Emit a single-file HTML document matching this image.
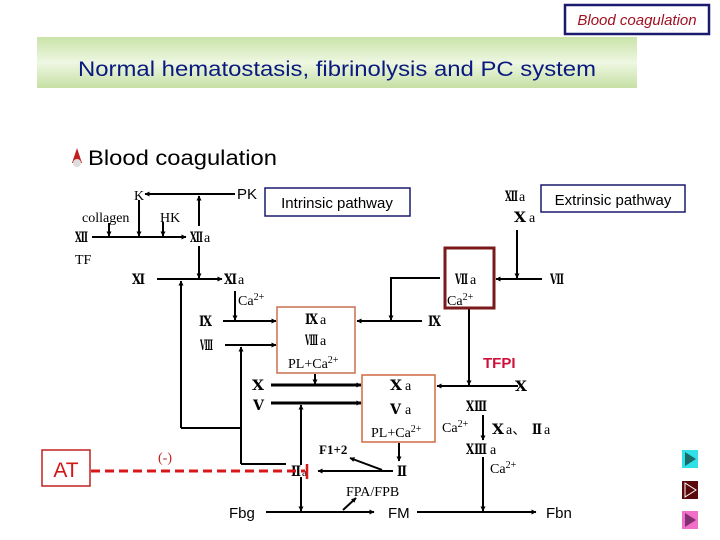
<!DOCTYPE html>
<html><head><meta charset="utf-8"><style>
html,body{margin:0;padding:0;background:#fff;}
svg{display:block}
.s{font-family:"Liberation Serif","DejaVu Serif",serif;font-size:14px;fill:#000}
.b{font-weight:bold}
.a{font-family:"Liberation Sans","DejaVu Sans",sans-serif;fill:#000}
</style></head><body>
<svg width="720" height="540" viewBox="0 0 720 540" xmlns="http://www.w3.org/2000/svg">
<defs>
<linearGradient id="g" x1="0" y1="0" x2="0" y2="1"><stop offset="0" stop-color="#c9e3a8"/><stop offset="0.5" stop-color="#eef7e2"/><stop offset="1" stop-color="#c6e0a4"/></linearGradient>
<marker id="ar" viewBox="0 0 10 10" refX="9" refY="5" markerWidth="5" markerHeight="5" orient="auto-start-reverse" markerUnits="userSpaceOnUse"><path d="M0,0L10,5L0,10z" fill="#000"/></marker>
</defs>
<rect x="565" y="5" width="144" height="29" fill="none" stroke="#1a1a6e" stroke-width="2.5"/>
<text x="637" y="25" text-anchor="middle" class="a" font-size="15" font-style="italic" style="fill:#a01020">Blood coagulation</text>
<rect x="37" y="37" width="600" height="51" fill="url(#g)"/>
<text x="78" y="76" class="a" font-size="21" textLength="518" lengthAdjust="spacingAndGlyphs" style="fill:#0a1a80">Normal hematostasis, fibrinolysis and PC system</text>
<path d="M77,148 L72,163 L82,163 Z" fill="#c02020"/><circle cx="77" cy="163" r="4" fill="#ddd"/>
<text x="88" y="165" class="a" font-size="21" textLength="189" lengthAdjust="spacingAndGlyphs">Blood coagulation</text>

<rect x="265" y="188" width="145" height="28" fill="none" stroke="#1a1a6e" stroke-width="1.5"/>
<text x="337" y="208" text-anchor="middle" class="a" font-size="15">Intrinsic pathway</text>
<rect x="541" y="185" width="144" height="27" fill="none" stroke="#1a1a6e" stroke-width="1.5"/>
<text x="613" y="205" text-anchor="middle" class="a" font-size="15">Extrinsic pathway</text>

<g stroke="#000" stroke-width="2" fill="none">
<line x1="235" y1="194" x2="145" y2="194" marker-end="url(#ar)"/>
<line x1="199" y1="226" x2="199" y2="196" marker-end="url(#ar)"/>
<line x1="92" y1="237" x2="186" y2="237" marker-end="url(#ar)"/>
<line x1="109" y1="223" x2="109" y2="236" marker-end="url(#ar)"/>
<line x1="139" y1="200" x2="139" y2="236" marker-end="url(#ar)"/>
<line x1="163" y1="222" x2="163" y2="236" marker-end="url(#ar)"/>
<line x1="199" y1="246" x2="199" y2="278" marker-end="url(#ar)"/>
<line x1="157" y1="279" x2="222" y2="279" marker-end="url(#ar)"/>
<line x1="181" y1="428" x2="181" y2="281" marker-end="url(#ar)"/>
<polyline points="181,428 241,428"/>
<line x1="235" y1="291" x2="235" y2="320" marker-end="url(#ar)"/>
<line x1="223" y1="321" x2="276" y2="321" marker-end="url(#ar)"/>
<line x1="225" y1="345" x2="276" y2="345" marker-end="url(#ar)"/>
<line x1="241" y1="464" x2="241" y2="347" marker-end="url(#ar)"/>
<polyline points="241,464 286,464"/>
<line x1="422" y1="321" x2="357" y2="321" marker-end="url(#ar)"/>
<polyline points="440,278 391,278 391,319" />
<line x1="391" y1="300" x2="391" y2="320" marker-end="url(#ar)"/>
<line x1="517" y1="230" x2="517" y2="278" marker-end="url(#ar)"/>
<line x1="542" y1="279" x2="496" y2="279" marker-end="url(#ar)"/>
<line x1="469" y1="309" x2="469" y2="385" marker-end="url(#ar)"/>
<line x1="518" y1="386" x2="437" y2="386" marker-end="url(#ar)"/>
<line x1="315" y1="374" x2="315" y2="384" marker-end="url(#ar)"/>
<line x1="271" y1="385" x2="361" y2="385" stroke-width="3" marker-end="url(#ar)"/>
<line x1="271" y1="403" x2="361" y2="403" stroke-width="3" marker-end="url(#ar)"/>
<line x1="301" y1="465" x2="301" y2="405" marker-end="url(#ar)"/>
<line x1="301" y1="477" x2="301" y2="511" marker-end="url(#ar)"/>
<line x1="399" y1="443" x2="399" y2="461" marker-end="url(#ar)"/>
<line x1="393" y1="471" x2="318" y2="471" marker-end="url(#ar)"/>
<line x1="382" y1="470" x2="350" y2="458" marker-end="url(#ar)"/>
<line x1="266" y1="512" x2="374" y2="512" marker-end="url(#ar)"/>
<line x1="343" y1="510" x2="356" y2="498" marker-end="url(#ar)"/>
<line x1="417" y1="512" x2="536" y2="512" marker-end="url(#ar)"/>
<line x1="483" y1="415" x2="483" y2="440" marker-end="url(#ar)"/>
<line x1="483" y1="457" x2="483" y2="511" marker-end="url(#ar)"/>
</g>
<rect x="277" y="307" width="78" height="66" fill="none" stroke="#c87050" stroke-width="1.5"/>
<rect x="445" y="248" width="49" height="60" fill="none" stroke="#7a1a1a" stroke-width="3"/>
<rect x="362" y="375" width="73" height="67" fill="none" stroke="#d06a40" stroke-width="1.5"/>

<g class="s">
<text x="134" y="200">K</text>
<text x="237" y="199" class="a" font-size="15">PK</text>
<text x="82" y="222">collagen</text>
<text x="160" y="222">HK</text>
<text x="75" y="242" class="b" textLength="13" lengthAdjust="spacingAndGlyphs">Ⅻ</text>
<text x="190" y="242" class="b" textLength="13" lengthAdjust="spacingAndGlyphs">Ⅻ</text><text x="204" y="242">a</text>
<text x="75" y="264">TF</text>
<text x="132" y="284" class="b" textLength="13" lengthAdjust="spacingAndGlyphs">Ⅺ</text>
<text x="224" y="284" class="b" textLength="13" lengthAdjust="spacingAndGlyphs">Ⅺ</text><text x="238" y="284">a</text>
<text x="238" y="305">Ca<tspan font-size="10" dy="-5">2+</tspan></text>
<text x="199" y="326" class="b" textLength="13" lengthAdjust="spacingAndGlyphs">Ⅸ</text>
<text x="200" y="350" class="b" textLength="13" lengthAdjust="spacingAndGlyphs">Ⅷ</text>
<text x="305" y="324" class="b" textLength="13" lengthAdjust="spacingAndGlyphs">Ⅸ</text><text x="320" y="324">a</text>
<text x="305" y="345" class="b" textLength="13" lengthAdjust="spacingAndGlyphs">Ⅷ</text><text x="320" y="345">a</text>
<text x="288" y="368">PL+Ca<tspan font-size="10" dy="-5">2+</tspan></text>
<text x="428" y="326" class="b" textLength="13" lengthAdjust="spacingAndGlyphs">Ⅸ</text>
<text x="505" y="201" class="b" textLength="13" lengthAdjust="spacingAndGlyphs">Ⅻ</text><text x="519" y="201">a</text>
<text x="514" y="222" class="b" textLength="12" lengthAdjust="spacingAndGlyphs">Ⅹ</text><text x="529" y="222">a</text>
<text x="455" y="284" class="b" textLength="13" lengthAdjust="spacingAndGlyphs">Ⅶ</text><text x="470" y="284">a</text>
<text x="447" y="305">Ca<tspan font-size="10" dy="-5">2+</tspan></text>
<text x="550" y="284" class="b" textLength="14" lengthAdjust="spacingAndGlyphs">Ⅶ</text>
<text x="252" y="390" class="b" textLength="12" lengthAdjust="spacingAndGlyphs">Ⅹ</text>
<text x="253" y="410" class="b" textLength="11" lengthAdjust="spacingAndGlyphs">Ⅴ</text>
<text x="390" y="390" class="b" textLength="12" lengthAdjust="spacingAndGlyphs">Ⅹ</text><text x="405" y="390">a</text>
<text x="390" y="414" class="b" textLength="11" lengthAdjust="spacingAndGlyphs">Ⅴ</text><text x="405" y="414">a</text>
<text x="371" y="437">PL+Ca<tspan font-size="10" dy="-5">2+</tspan></text>
<text x="515" y="391" class="b" textLength="12" lengthAdjust="spacingAndGlyphs">Ⅹ</text>
<text x="466" y="411" class="b" textLength="21" lengthAdjust="spacingAndGlyphs">ⅩⅢ</text>
<text x="442" y="432">Ca<tspan font-size="10" dy="-5">2+</tspan></text>
<text x="492" y="434" class="b" textLength="12" lengthAdjust="spacingAndGlyphs">Ⅹ</text><text x="506" y="434">a、</text><text x="532" y="434" class="b" textLength="10" lengthAdjust="spacingAndGlyphs">Ⅱ</text><text x="544" y="434">a</text>
<text x="466" y="454" class="b" textLength="21" lengthAdjust="spacingAndGlyphs">ⅩⅢ</text><text x="490" y="454">a</text>
<text x="490" y="473">Ca<tspan font-size="10" dy="-5">2+</tspan></text>
<text x="319" y="454" class="b" font-size="13">F1+2</text>
<text x="291" y="476" class="b" textLength="10" lengthAdjust="spacingAndGlyphs">Ⅱ</text><text x="302" y="476" font-size="11">a</text>
<text x="397" y="476" class="b" textLength="10" lengthAdjust="spacingAndGlyphs">Ⅱ</text>
<text x="346" y="496">FPA/FPB</text>
<text x="229" y="518" class="a" font-size="15">Fbg</text>
<text x="388" y="518" class="a" font-size="15">FM</text>
<text x="546" y="518" class="a" font-size="15">Fbn</text>
<text x="158" y="462" style="fill:#c02020">(-)</text>
</g>
<text x="483" y="368" class="a" font-size="15" font-weight="bold" style="fill:#d0103a">TFPI</text>
<rect x="42" y="450" width="48" height="36" fill="none" stroke="#c02020" stroke-width="1.5"/>
<text x="66" y="477" text-anchor="middle" class="a" font-size="21" style="fill:#d01818">AT</text>
<line x1="91" y1="471" x2="305" y2="471" stroke="#d81818" stroke-width="3" stroke-dasharray="9,5"/>
<line x1="307" y1="464" x2="307" y2="479" stroke="#d81818" stroke-width="2.5"/>
<rect x="682" y="450" width="16" height="18" fill="#30e0e8"/><path d="M685,452L696,459L685,466Z" fill="#1a6a6a"/>
<rect x="682" y="481" width="16" height="18" fill="#5a0a0a"/><path d="M685,483L696,490L685,497Z" fill="none" stroke="#fff" stroke-width="1"/>
<rect x="682" y="511" width="16" height="18" fill="#f070c8"/><path d="M685,513L696,520L685,527Z" fill="#803070"/>
</svg>
</body></html>
